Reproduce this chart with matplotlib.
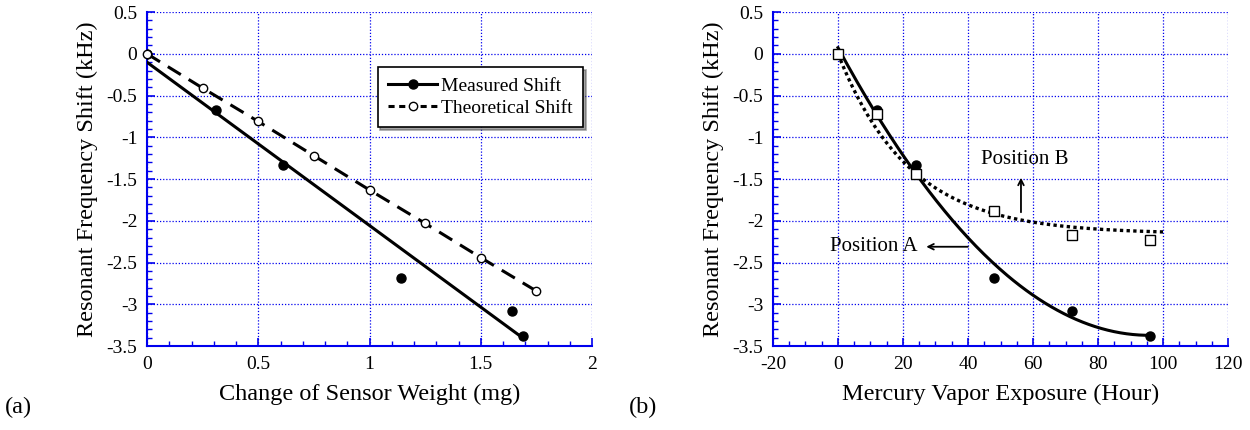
import numpy as np
import matplotlib.pyplot as plt
from matplotlib.lines import Line2D
from matplotlib.ticker import MultipleLocator, FuncFormatter

plt.rcParams['font.family'] = ['Liberation Serif', 'DejaVu Serif']
plt.rcParams['axes.unicode_minus'] = False

# (a) sensor weight vs frequency shift
weight_meas = [0, 0.31, 0.61, 1.14, 1.64, 1.69]
shift_meas = [0, -0.67, -1.33, -2.68, -3.08, -3.38]
weight_theo = [0, 0.25, 0.5, 0.75, 1.0, 1.25, 1.5, 1.75]
shift_theo = [0, -0.41, -0.81, -1.22, -1.63, -2.03, -2.44, -2.84]

# (b) mercury exposure
hours = [0, 12, 24, 48, 72, 96]
shift_posA = [0, -0.67, -1.33, -2.68, -3.08, -3.38]
shift_posB = [0, -0.72, -1.44, -1.88, -2.17, -2.23]
# position B trend y = a*(1 - exp(-k*x)), parameters
fitB_a = -2.155
fitB_k = 0.0456

blue = '#0000ee'
fmt = FuncFormatter(lambda v, p: f'{v:g}')


def style_axes(ax, xmaj, xmin):
    ax.yaxis.set_major_locator(MultipleLocator(0.5))
    ax.yaxis.set_minor_locator(MultipleLocator(0.1))
    ax.xaxis.set_major_locator(MultipleLocator(xmaj))
    ax.xaxis.set_minor_locator(MultipleLocator(xmin))
    ax.xaxis.set_major_formatter(fmt)
    ax.yaxis.set_major_formatter(fmt)
    ax.grid(True, which='major', color=blue, linestyle=(0, (1, 1.5)), linewidth=0.9)
    for s in ['top', 'right']:
        ax.spines[s].set_visible(False)
    for s in ['left', 'bottom']:
        ax.spines[s].set_color(blue)
        ax.spines[s].set_linewidth(1.5)
    ax.tick_params(which='both', direction='in', color=blue, labelsize=14, pad=7)
    ax.tick_params(which='major', length=6, width=1.2)
    ax.tick_params(which='minor', length=3.5, width=1)
    ax.set_ylim(-3.5, 0.5)
    ax.set_ylabel('Resonant Frequency Shift (kHz)', fontsize=17.5, labelpad=6)


fig = plt.figure(figsize=(12.5, 4.3), dpi=100)
ax1 = fig.add_axes([0.1176, 0.195, 0.356, 0.777])
ax2 = fig.add_axes([0.6184, 0.195, 0.364, 0.777])

# ---- (a)
style_axes(ax1, 0.5, 0.1)
ax1.set_xlim(0, 2)
slope, icpt = np.polyfit(weight_meas, shift_meas, 1)
xl = np.array([0, max(weight_meas)])
ax1.plot(xl, slope * xl + icpt, color='k', lw=2.2, zorder=3)
ax1.plot(weight_meas, shift_meas, 'o', color='k', ms=6.5, zorder=4)
ax1.plot(weight_theo, shift_theo, color='k', lw=2.2, ls=(0, (5, 3)),
         marker='o', mfc='white', mec='k', ms=6, zorder=5, clip_on=False)
ax1.set_xlabel('Change of Sensor Weight (mg)', fontsize=17.5, labelpad=8)
h1 = Line2D([], [], color='k', lw=2.2, marker='o', ms=6.5)
h2 = Line2D([], [], color='k', lw=2.2, ls=(0, (2, 1.5)), marker='o', mfc='white', ms=6)
leg = ax1.legend([h1, h2], ['Measured Shift', 'Theoretical Shift'], loc='upper left',
                 bbox_to_anchor=(0.518, 0.836), fontsize=14, fancybox=False, shadow=True,
                 edgecolor='k', framealpha=1, handlelength=2.5, handletextpad=0.2,
                 borderpad=0.55, labelspacing=0.2, numpoints=1, borderaxespad=0)
leg.get_frame().set_linewidth(1.2)

# ---- (b)
style_axes(ax2, 20, 5)
ax2.set_xlim(-20, 120)
ca = np.polyfit(hours, shift_posA, 2)
xa = np.linspace(0, 96, 200)
ax2.plot(xa, np.polyval(ca, xa), color='k', lw=2.2, zorder=3)

xb = np.linspace(0, 100, 200)
ax2.plot(xb, fitB_a * (1 - np.exp(-fitB_k * xb)), color='k', lw=2.4, ls=(0, (1, 1)), zorder=3)

ax2.plot(hours, shift_posA, 'o', color='k', ms=6.5, zorder=4)
ax2.plot(hours, shift_posB, 's', mfc='white', mec='k', ms=6.5, zorder=5)

ax2.annotate('', xy=(56.3, -1.45), xytext=(56.3, -1.93),
             arrowprops=dict(arrowstyle='->', color='k', lw=1.3))
ax2.text(57.5, -1.27, 'Position B', fontsize=15, ha='center', va='center')
ax2.annotate('', xy=(26.3, -2.31), xytext=(40.8, -2.31),
             arrowprops=dict(arrowstyle='->', color='k', lw=1.3))
ax2.text(24.6, -2.31, 'Position A', fontsize=15, ha='right', va='center')
ax2.set_xlabel('Mercury Vapor Exposure (Hour)', fontsize=17.5, labelpad=8)

fig.text(0.004, 0.04, '(a)', fontsize=17.5)
fig.text(0.503, 0.04, '(b)', fontsize=17.5)

fig.savefig('out.png', dpi=100)
